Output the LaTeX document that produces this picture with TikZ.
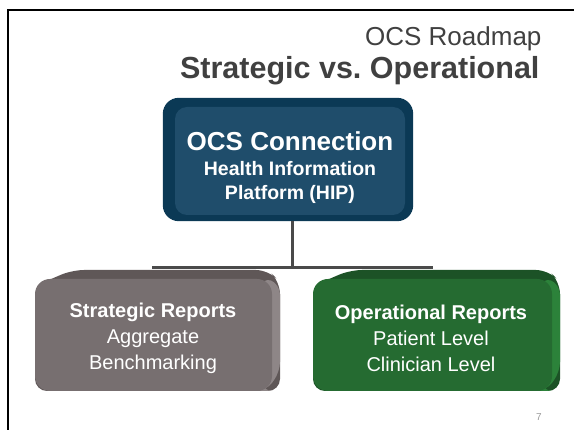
\documentclass[tikz,border=0pt]{standalone}
\usepackage{fontspec}
\setmainfont{Liberation Sans}
\usetikzlibrary{positioning}
\definecolor{navyout}{HTML}{0B3955}
\definecolor{navyin}{HTML}{1F4D6B}
\definecolor{greyout}{HTML}{5F5757}
\definecolor{greyin}{HTML}{776F70}
\definecolor{greyside}{HTML}{8E8687}
\definecolor{greenout}{HTML}{1C5226}
\definecolor{greenin}{HTML}{256B31}
\definecolor{greenside}{HTML}{2C823A}
\definecolor{titlegrey}{HTML}{404040}
\definecolor{linegrey}{HTML}{4A4A4A}
\tikzset{
  boxtext/.style={text=white, align=center, inner sep=0pt,
    font=\fontsize{20}{26}\selectfont},
  conn/.style={draw=linegrey, line width=3pt},
  slot/.style={inner sep=0pt, minimum width=#1},
}

\begin{document}
\begin{tikzpicture}[x=1pt,y=-1pt]
\useasboundingbox (0,0) rectangle (574,430);
% slide frame
\draw[line width=2.5pt] (8,431) -- (8,10) -- (575,10);
% title
\node[anchor=east, text=titlegrey, font=\fontsize{26}{32}\selectfont] (ttl) at (545,39) {OCS Roadmap};
\node[anchor=east, text=titlegrey, font=\bfseries\fontsize{30.5}{32}\selectfont] (sub) at (543,71) {Strategic vs.\ Operational};

% top box
\node[slot=250pt, minimum height=123pt] (hip) at (288,159.5) {};
\fill[navyout, rounded corners=16pt] (hip.north west) rectangle (hip.south east);
\fill[navyin, rounded corners=12pt] (175,107) rectangle (405,215);
\node[boxtext, font=\bfseries\fontsize{19.5}{24}\selectfont] (hiplbl) at (290,168)
  {{\fontsize{26}{26}\selectfont OCS Connection}\\[1pt] Health Information\\ Platform (HIP)};

% left box
\node[slot=245pt, minimum height=121pt] (strat) at (157.5,330.5) {};
\fill[greyout, rounded corners=12pt] (35,391) -- (35,286) -- (72,270) -- (268,270) -- (280,282) -- (280,391) -- cycle;
\fill[greyside, rounded corners=10pt] (262,277) -- (280,284) -- (280,372) -- (266,391) -- (262,391) -- cycle;
\fill[greyin, rounded corners=15pt] (35,279) rectangle (272,391);
\node[boxtext] (stratlbl) at (153,338) {\textbf{Strategic Reports}\\ Aggregate\\ Benchmarking};

% right box
\node[slot=247pt, minimum height=121pt] (oper) at (436.5,330.5) {};
\fill[greenout, rounded corners=12pt] (313,391) -- (313,286) -- (350,270) -- (548,270) -- (560,282) -- (560,391) -- cycle;
\fill[greenside, rounded corners=10pt] (542,277) -- (560,284) -- (560,372) -- (546,391) -- (542,391) -- cycle;
\fill[greenin, rounded corners=15pt] (313,279) rectangle (552,391);
\node[boxtext] (operlbl) at (431,338) {\textbf{Operational Reports}\\ Patient Level\\ Clinician Level};

% connectors
\coordinate (jn) at (292,268);
\coordinate (busL) at (152,268);
\coordinate (busR) at (433,268);
\draw[conn] (hip.south -| jn) -- (jn);
\draw[conn] (busL) -- (busR);

% page number
\node[text=gray!80, font=\fontsize{10}{12}\selectfont] (pg) at (539,417) {7};
\end{tikzpicture}
\end{document}
